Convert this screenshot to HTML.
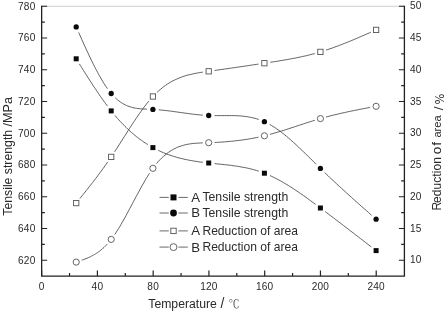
<!DOCTYPE html>
<html lang="en"><head><meta charset="utf-8"><title>Tensile strength and reduction of area vs temperature</title>
<style>html,body{margin:0;padding:0;background:#fff;}body{width:445px;height:313px;overflow:hidden;}</style></head>
<body>
<svg width="445" height="313" viewBox="0 0 445 313" style="display:block">
<rect width="445" height="313" fill="#fff"/>
<line x1="41.65" y1="6.25" x2="404.4" y2="6.25" stroke="#c4c4c4" stroke-width="0.8"/>
<g stroke="#222" stroke-width="1.3" fill="none" stroke-linecap="butt">
<path d="M41.65 5.75 V276.1 H404.4 V5.75" stroke-linejoin="miter"/>
<path d="M41.65 260.23 h5.5 M41.65 228.48 h5.5 M41.65 196.73 h5.5 M41.65 164.99 h5.5 M41.65 133.24 h5.5 M41.65 101.49 h5.5 M41.65 69.74 h5.5 M41.65 38.00 h5.5 M41.65 6.25 h5.5 M41.65 244.35 h3.2 M41.65 212.61 h3.2 M41.65 180.86 h3.2 M41.65 149.11 h3.2 M41.65 117.36 h3.2 M41.65 85.62 h3.2 M41.65 53.87 h3.2 M41.65 22.12 h3.2 M404.4 260.23 h-5.5 M404.4 228.48 h-5.5 M404.4 196.73 h-5.5 M404.4 164.99 h-5.5 M404.4 133.24 h-5.5 M404.4 101.49 h-5.5 M404.4 69.74 h-5.5 M404.4 38.00 h-5.5 M404.4 6.25 h-5.5 M404.4 244.35 h-3.2 M404.4 212.61 h-3.2 M404.4 180.86 h-3.2 M404.4 149.11 h-3.2 M404.4 117.36 h-3.2 M404.4 85.62 h-3.2 M404.4 53.87 h-3.2 M404.4 22.12 h-3.2 M41.65 276.1 v-5.5 M97.41 276.1 v-5.5 M153.17 276.1 v-5.5 M208.93 276.1 v-5.5 M264.69 276.1 v-5.5 M320.45 276.1 v-5.5 M376.21 276.1 v-5.5 M69.53 276.1 v-3.2 M125.29 276.1 v-3.2 M181.05 276.1 v-3.2 M236.81 276.1 v-3.2 M292.57 276.1 v-3.2 M348.33 276.1 v-3.2" stroke-width="1.2"/>
</g>
<g stroke="#444" stroke-width="0.85" fill="none">
<path d="M79.4 63.9 L80.4 65.6 L81.5 67.3 L82.5 68.9 L83.6 70.6 L84.6 72.3 L85.7 74.0 L86.8 75.6 L87.8 77.3 L88.9 78.9 L89.9 80.6 L91.0 82.2 L92.0 83.8 L93.1 85.5 L94.1 87.1 L95.2 88.6 L96.3 90.2 L97.3 91.8 L98.4 93.3 L99.4 94.9 L100.5 96.4 L101.5 97.9 L102.6 99.4 L103.6 100.9 L104.7 102.3 L105.7 103.8 L106.8 105.2 L107.5 106.1"/>
<path d="M115.0 115.5 L116.2 117.0 L117.5 118.4 L118.7 119.8 L120.0 121.2 L121.3 122.5 L122.5 123.8 L123.8 125.1 L125.0 126.4 L126.3 127.6 L127.5 128.8 L128.8 130.0 L130.1 131.2 L131.3 132.3 L132.6 133.4 L133.8 134.4 L135.1 135.5 L136.3 136.5 L137.6 137.5 L138.9 138.5 L140.1 139.4 L141.4 140.3 L142.6 141.2 L143.9 142.1 L145.1 142.9 L146.4 143.7 L147.7 144.5 L147.9 144.7"/>
<path d="M158.2 150.3 L159.9 151.1 L161.6 151.9 L163.3 152.6 L165.0 153.3 L166.6 154.0 L168.3 154.6 L170.0 155.2 L171.7 155.7 L173.4 156.3 L175.1 156.8 L176.7 157.3 L178.4 157.8 L180.1 158.2 L181.8 158.6 L183.5 159.0 L185.1 159.4 L186.8 159.7 L188.5 160.1 L190.2 160.4 L191.9 160.7 L193.6 161.0 L195.2 161.2 L196.9 161.5 L198.6 161.8 L200.3 162.0 L202.0 162.2 L202.8 162.3"/>
<path d="M214.6 163.6 L216.3 163.8 L217.9 164.0 L219.6 164.1 L221.3 164.3 L223.0 164.5 L224.7 164.7 L226.3 164.8 L228.0 165.0 L229.7 165.2 L231.4 165.4 L233.1 165.7 L234.7 165.9 L236.4 166.1 L238.1 166.4 L239.8 166.7 L241.4 167.0 L243.1 167.3 L244.8 167.6 L246.5 167.9 L248.2 168.3 L249.8 168.7 L251.5 169.1 L253.2 169.6 L254.9 170.0 L256.6 170.5 L258.2 171.0 L258.8 171.2"/>
<path d="M270.0 175.6 L271.7 176.4 L273.4 177.2 L275.1 178.0 L276.8 178.9 L278.5 179.8 L280.2 180.7 L281.8 181.6 L283.5 182.6 L285.2 183.6 L286.9 184.6 L288.6 185.7 L290.3 186.7 L292.0 187.8 L293.7 188.9 L295.4 190.0 L297.0 191.1 L298.7 192.3 L300.4 193.5 L302.1 194.6 L303.8 195.8 L305.5 197.0 L307.2 198.2 L308.9 199.5 L310.6 200.7 L312.2 201.9 L313.9 203.2 L315.6 204.4"/>
<path d="M325.2 211.6 L326.8 212.8 L328.5 214.1 L330.2 215.4 L331.9 216.7 L333.6 217.9 L335.2 219.2 L336.9 220.5 L338.6 221.8 L340.3 223.0 L342.0 224.3 L343.6 225.6 L345.3 226.9 L347.0 228.2 L348.7 229.5 L350.3 230.8 L352.0 232.0 L353.7 233.3 L355.4 234.6 L357.1 235.9 L358.7 237.2 L360.4 238.5 L362.1 239.8 L363.8 241.1 L365.5 242.4 L367.1 243.7 L368.8 245.0 L370.5 246.3 L371.3 246.9"/>
<path d="M78.7 32.5 L79.7 34.8 L80.8 37.2 L81.8 39.6 L82.9 41.9 L83.9 44.3 L85.0 46.6 L86.0 48.9 L87.1 51.2 L88.2 53.4 L89.2 55.7 L90.3 57.9 L91.3 60.1 L92.4 62.2 L93.4 64.4 L94.5 66.5 L95.5 68.5 L96.6 70.5 L97.7 72.5 L98.7 74.5 L99.8 76.4 L100.8 78.2 L101.9 80.0 L102.9 81.8 L104.0 83.5 L105.0 85.1 L106.1 86.7 L107.2 88.2 L107.5 88.7"/>
<path d="M115.2 97.8 L116.4 98.9 L117.7 100.0 L119.0 101.0 L120.2 101.9 L121.5 102.7 L122.7 103.5 L124.0 104.2 L125.2 104.9 L126.5 105.5 L127.8 106.0 L129.0 106.4 L130.3 106.9 L131.5 107.2 L132.8 107.6 L134.0 107.9 L135.3 108.1 L136.6 108.3 L137.8 108.5 L139.1 108.6 L140.3 108.8 L141.6 108.9 L142.8 109.0 L144.1 109.0 L145.4 109.1 L146.6 109.2 L147.0 109.2"/>
<path d="M158.8 109.8 L160.5 110.0 L162.2 110.1 L163.8 110.3 L165.5 110.5 L167.2 110.7 L168.9 110.9 L170.6 111.1 L172.2 111.3 L173.9 111.6 L175.6 111.8 L177.3 112.0 L179.0 112.3 L180.7 112.5 L182.3 112.7 L184.0 113.0 L185.7 113.2 L187.4 113.4 L189.1 113.7 L190.8 113.9 L192.4 114.1 L194.1 114.3 L195.8 114.5 L197.5 114.7 L199.2 114.8 L200.8 115.0 L202.5 115.1 L202.8 115.2"/>
<path d="M214.6 115.6 L216.3 115.6 L217.9 115.6 L219.6 115.6 L221.3 115.6 L223.0 115.6 L224.7 115.6 L226.3 115.6 L228.0 115.6 L229.7 115.6 L231.4 115.6 L233.1 115.6 L234.7 115.6 L236.4 115.7 L238.1 115.8 L239.8 115.9 L241.4 116.0 L243.1 116.2 L244.8 116.4 L246.5 116.6 L248.2 116.9 L249.8 117.2 L251.5 117.5 L253.2 117.9 L254.9 118.3 L256.6 118.8 L258.2 119.3 L258.8 119.5"/>
<path d="M269.7 124.4 L271.4 125.4 L273.1 126.5 L274.8 127.5 L276.5 128.7 L278.2 129.9 L279.9 131.1 L281.6 132.4 L283.3 133.7 L284.9 135.0 L286.6 136.4 L288.3 137.8 L290.0 139.3 L291.7 140.8 L293.4 142.3 L295.1 143.8 L296.8 145.4 L298.5 147.0 L300.1 148.6 L301.8 150.2 L303.5 151.8 L305.2 153.4 L306.9 155.1 L308.6 156.8 L310.3 158.4 L312.0 160.1 L313.6 161.8 L315.3 163.4 L316.2 164.3"/>
<path d="M324.6 172.5 L326.3 174.1 L328.0 175.7 L329.6 177.3 L331.3 178.9 L333.0 180.4 L334.7 182.0 L336.4 183.6 L338.0 185.1 L339.7 186.7 L341.4 188.2 L343.1 189.8 L344.8 191.3 L346.4 192.8 L348.1 194.3 L349.8 195.9 L351.5 197.4 L353.1 198.9 L354.8 200.4 L356.5 201.9 L358.2 203.4 L359.9 204.9 L361.5 206.4 L363.2 207.8 L364.9 209.3 L366.6 210.8 L368.3 212.3 L369.9 213.8 L371.6 215.3"/>
<path d="M79.9 198.5 L80.9 197.2 L82.0 195.9 L83.1 194.6 L84.1 193.3 L85.2 192.0 L86.2 190.6 L87.3 189.3 L88.3 188.0 L89.4 186.6 L90.4 185.3 L91.5 183.9 L92.6 182.6 L93.6 181.2 L94.7 179.8 L95.7 178.4 L96.8 177.1 L97.8 175.7 L98.9 174.2 L99.9 172.8 L101.0 171.4 L102.1 169.9 L103.1 168.5 L104.2 167.0 L105.2 165.5 L106.3 164.1 L107.3 162.5 L107.9 161.8"/>
<path d="M114.6 151.8 L115.8 149.9 L117.1 148.0 L118.3 146.0 L119.6 144.1 L120.8 142.1 L122.1 140.1 L123.4 138.1 L124.6 136.2 L125.9 134.2 L127.1 132.2 L128.4 130.2 L129.6 128.3 L130.9 126.3 L132.2 124.4 L133.4 122.5 L134.7 120.6 L135.9 118.7 L137.2 116.9 L138.4 115.0 L139.7 113.2 L141.0 111.5 L142.2 109.7 L143.5 108.0 L144.7 106.3 L146.0 104.7 L147.2 103.1 L148.5 101.6 L148.9 101.0"/>
<path d="M157.1 92.3 L158.8 90.7 L160.5 89.3 L162.2 87.9 L163.8 86.6 L165.5 85.4 L167.2 84.2 L168.9 83.2 L170.6 82.2 L172.2 81.2 L173.9 80.4 L175.6 79.5 L177.3 78.8 L179.0 78.1 L180.7 77.4 L182.3 76.8 L184.0 76.2 L185.7 75.7 L187.4 75.2 L189.1 74.8 L190.8 74.4 L192.4 74.0 L194.1 73.6 L195.8 73.3 L197.5 73.0 L199.2 72.7 L200.8 72.4 L202.5 72.2 L202.8 72.1"/>
<path d="M214.6 70.5 L216.3 70.2 L217.9 70.0 L219.6 69.8 L221.3 69.5 L223.0 69.3 L224.7 69.0 L226.3 68.8 L228.0 68.6 L229.7 68.3 L231.4 68.1 L233.1 67.8 L234.7 67.6 L236.4 67.3 L238.1 67.1 L239.8 66.8 L241.4 66.6 L243.1 66.4 L244.8 66.1 L246.5 65.9 L248.2 65.6 L249.8 65.4 L251.5 65.1 L253.2 64.9 L254.9 64.6 L256.6 64.4 L258.2 64.1 L258.5 64.1"/>
<path d="M270.3 62.3 L272.0 62.0 L273.7 61.8 L275.4 61.5 L277.1 61.3 L278.8 61.0 L280.4 60.7 L282.1 60.4 L283.8 60.1 L285.5 59.8 L287.2 59.6 L288.9 59.2 L290.6 58.9 L292.3 58.6 L293.9 58.3 L295.6 58.0 L297.3 57.6 L299.0 57.3 L300.7 56.9 L302.4 56.5 L304.1 56.2 L305.8 55.8 L307.5 55.4 L309.1 55.0 L310.8 54.5 L312.5 54.1 L314.2 53.7 L314.8 53.5"/>
<path d="M326.0 50.1 L327.7 49.6 L329.4 49.0 L331.0 48.4 L332.7 47.9 L334.4 47.2 L336.1 46.6 L337.8 46.0 L339.4 45.4 L341.1 44.7 L342.8 44.1 L344.5 43.4 L346.2 42.7 L347.8 42.1 L349.5 41.4 L351.2 40.7 L352.9 40.0 L354.5 39.3 L356.2 38.6 L357.9 37.9 L359.6 37.1 L361.3 36.4 L362.9 35.7 L364.6 35.0 L366.3 34.2 L368.0 33.5 L369.7 32.7 L370.8 32.3"/>
<path d="M81.8 260.2 L82.9 259.8 L83.9 259.4 L85.0 259.0 L86.0 258.6 L87.1 258.2 L88.2 257.7 L89.2 257.3 L90.3 256.8 L91.3 256.2 L92.4 255.7 L93.4 255.1 L94.5 254.5 L95.5 253.9 L96.6 253.2 L97.7 252.5 L98.7 251.7 L99.8 251.0 L100.8 250.1 L101.9 249.3 L102.9 248.3 L104.0 247.4 L105.0 246.4 L106.1 245.3 L107.2 244.2 L107.3 244.0"/>
<path d="M114.8 234.5 L116.0 232.6 L117.3 230.6 L118.5 228.6 L119.8 226.5 L121.0 224.4 L122.3 222.2 L123.6 220.0 L124.8 217.8 L126.1 215.5 L127.3 213.2 L128.6 210.8 L129.8 208.5 L131.1 206.1 L132.4 203.7 L133.6 201.3 L134.9 199.0 L136.1 196.6 L137.4 194.3 L138.7 191.9 L139.9 189.6 L141.2 187.3 L142.4 185.1 L143.7 182.9 L144.9 180.7 L146.2 178.6 L147.5 176.5 L148.7 174.5 L149.5 173.2"/>
<path d="M156.5 163.6 L158.2 161.6 L159.9 159.8 L161.6 158.1 L163.3 156.5 L165.0 155.1 L166.6 153.7 L168.3 152.5 L170.0 151.3 L171.7 150.3 L173.4 149.3 L175.1 148.4 L176.7 147.6 L178.4 146.9 L180.1 146.3 L181.8 145.8 L183.5 145.3 L185.1 144.8 L186.8 144.5 L188.5 144.1 L190.2 143.9 L191.9 143.6 L193.6 143.4 L195.2 143.3 L196.9 143.2 L198.6 143.1 L200.3 143.0 L202.0 142.9 L202.8 142.9"/>
<path d="M214.6 142.5 L216.3 142.4 L217.9 142.3 L219.6 142.2 L221.3 142.1 L223.0 142.0 L224.7 141.9 L226.3 141.7 L228.0 141.6 L229.7 141.4 L231.4 141.3 L233.1 141.1 L234.7 140.9 L236.4 140.7 L238.1 140.5 L239.8 140.3 L241.4 140.1 L243.1 139.9 L244.8 139.6 L246.5 139.4 L248.2 139.1 L249.8 138.8 L251.5 138.5 L253.2 138.2 L254.9 137.9 L256.6 137.6 L258.2 137.2 L258.5 137.1"/>
<path d="M270.0 134.4 L271.7 133.9 L273.4 133.4 L275.1 132.9 L276.8 132.4 L278.5 131.9 L280.2 131.4 L281.8 130.9 L283.5 130.4 L285.2 129.8 L286.9 129.3 L288.6 128.8 L290.3 128.2 L292.0 127.7 L293.7 127.1 L295.4 126.5 L297.0 126.0 L298.7 125.4 L300.4 124.9 L302.1 124.3 L303.8 123.8 L305.5 123.2 L307.2 122.7 L308.9 122.1 L310.6 121.6 L312.2 121.1 L313.9 120.5 L314.8 120.3"/>
<path d="M326.0 117.0 L327.7 116.6 L329.4 116.2 L331.0 115.7 L332.7 115.3 L334.4 114.9 L336.1 114.5 L337.8 114.1 L339.4 113.7 L341.1 113.3 L342.8 112.9 L344.5 112.6 L346.2 112.2 L347.8 111.8 L349.5 111.5 L351.2 111.1 L352.9 110.8 L354.5 110.4 L356.2 110.1 L357.9 109.8 L359.6 109.4 L361.3 109.1 L362.9 108.8 L364.6 108.5 L366.3 108.1 L368.0 107.8 L369.7 107.5 L370.2 107.4"/>
</g>
<rect x="73.70" y="56.30" width="5.0" height="5.0" fill="#0a0a0a"/>
<rect x="108.70" y="108.40" width="5.0" height="5.0" fill="#0a0a0a"/>
<rect x="150.40" y="145.10" width="5.0" height="5.0" fill="#0a0a0a"/>
<rect x="206.20" y="160.50" width="5.0" height="5.0" fill="#0a0a0a"/>
<rect x="261.90" y="170.70" width="5.0" height="5.0" fill="#0a0a0a"/>
<rect x="317.90" y="205.50" width="5.0" height="5.0" fill="#0a0a0a"/>
<rect x="373.60" y="248.10" width="5.0" height="5.0" fill="#0a0a0a"/>
<circle cx="76.20" cy="26.90" r="2.65" fill="#0a0a0a"/>
<circle cx="111.20" cy="93.50" r="2.65" fill="#0a0a0a"/>
<circle cx="152.90" cy="109.40" r="2.65" fill="#0a0a0a"/>
<circle cx="208.70" cy="115.50" r="2.65" fill="#0a0a0a"/>
<circle cx="264.40" cy="121.70" r="2.65" fill="#0a0a0a"/>
<circle cx="320.40" cy="168.40" r="2.65" fill="#0a0a0a"/>
<circle cx="376.10" cy="219.20" r="2.65" fill="#0a0a0a"/>
<rect x="73.55" y="200.45" width="5.3" height="5.3" fill="#fff" stroke="#555" stroke-width="0.9"/>
<rect x="108.55" y="154.25" width="5.3" height="5.3" fill="#fff" stroke="#555" stroke-width="0.9"/>
<rect x="150.25" y="93.85" width="5.3" height="5.3" fill="#fff" stroke="#555" stroke-width="0.9"/>
<rect x="206.05" y="68.65" width="5.3" height="5.3" fill="#fff" stroke="#555" stroke-width="0.9"/>
<rect x="261.75" y="60.55" width="5.3" height="5.3" fill="#fff" stroke="#555" stroke-width="0.9"/>
<rect x="317.75" y="49.25" width="5.3" height="5.3" fill="#fff" stroke="#555" stroke-width="0.9"/>
<rect x="373.45" y="27.25" width="5.3" height="5.3" fill="#fff" stroke="#555" stroke-width="0.9"/>
<circle cx="76.20" cy="262.10" r="3.1" fill="#fff" stroke="#555" stroke-width="0.9"/>
<circle cx="111.20" cy="239.40" r="3.1" fill="#fff" stroke="#555" stroke-width="0.9"/>
<circle cx="152.90" cy="168.30" r="3.1" fill="#fff" stroke="#555" stroke-width="0.9"/>
<circle cx="208.70" cy="142.70" r="3.1" fill="#fff" stroke="#555" stroke-width="0.9"/>
<circle cx="264.40" cy="135.80" r="3.1" fill="#fff" stroke="#555" stroke-width="0.9"/>
<circle cx="320.40" cy="118.60" r="3.1" fill="#fff" stroke="#555" stroke-width="0.9"/>
<circle cx="376.10" cy="106.30" r="3.1" fill="#fff" stroke="#555" stroke-width="0.9"/>
<g font-family="'Liberation Sans', sans-serif" font-size="10.1" letter-spacing="0.2" fill="#2a2a2a">
<text x="35.5" y="263.53" text-anchor="end">620</text>
<text x="35.5" y="231.78" text-anchor="end">640</text>
<text x="35.5" y="200.03" text-anchor="end">660</text>
<text x="35.5" y="168.29" text-anchor="end">680</text>
<text x="35.5" y="136.54" text-anchor="end">700</text>
<text x="35.5" y="104.79" text-anchor="end">720</text>
<text x="35.5" y="73.04" text-anchor="end">740</text>
<text x="35.5" y="41.30" text-anchor="end">760</text>
<text x="35.5" y="9.55" text-anchor="end">780</text>
<text x="410" y="263.33">10</text>
<text x="410" y="231.58">15</text>
<text x="410" y="199.83">20</text>
<text x="410" y="168.09">25</text>
<text x="410" y="136.34">30</text>
<text x="410" y="104.59">35</text>
<text x="410" y="72.84">40</text>
<text x="410" y="41.10">45</text>
<text x="410" y="9.35">50</text>
<text x="41.65" y="290.3" text-anchor="middle">0</text>
<text x="97.41" y="290.3" text-anchor="middle">40</text>
<text x="153.17" y="290.3" text-anchor="middle">80</text>
<text x="208.93" y="290.3" text-anchor="middle">120</text>
<text x="264.69" y="290.3" text-anchor="middle">160</text>
<text x="320.45" y="290.3" text-anchor="middle">200</text>
<text x="376.21" y="290.3" text-anchor="middle">240</text>
</g>
<g font-family="'Liberation Sans', sans-serif" fill="#2a2a2a">
<text transform="translate(11.8 215.7) rotate(-90)" font-size="12.25">Tensile strength</text>
<text transform="translate(12.0 126.6) rotate(-90)" font-size="12.7">/MPa</text>
<text transform="translate(441.2 210.4) rotate(-90)" font-size="12">R</text>
<text transform="translate(441.2 203.1) rotate(-90)" font-size="12" textLength="46.0" lengthAdjust="spacing">eduction</text>
<text transform="translate(441.2 154.3) rotate(-90)" font-size="13.6" letter-spacing="0.9">of</text>
<text transform="translate(441.3 137.6) rotate(-90)" font-size="11.2">area</text>
<text transform="translate(442.6 110.3) rotate(-90)" font-size="13.5">/</text>
<text transform="translate(443.5 104.6) rotate(-90)" font-size="11.5" font-family="'DejaVu Sans', sans-serif">%</text>
<text x="148.3" y="307.8" font-size="12" textLength="68.5" lengthAdjust="spacingAndGlyphs">Temperature</text>
<text x="220.5" y="308.3" font-size="14">/</text>
<text x="228.6" y="307.9" font-size="11" fill="#444" font-family="'Liberation Serif', 'Noto Serif CJK SC', serif">℃</text>
<path d="M159.5 197.4 H168.8 M178.4 197.4 H187.8" stroke="#5a5a5a" stroke-width="0.9" fill="none"/>
<rect x="170.50" y="194.40" width="6.0" height="6.0" fill="#0a0a0a"/>
<text x="191.2" y="201.80" font-size="13.2">A</text>
<text x="202.4" y="201.00" font-size="12.1" textLength="85.8" lengthAdjust="spacingAndGlyphs">Tensile strength</text>
<path d="M159.5 213.0 H168.8 M178.4 213.0 H187.8" stroke="#5a5a5a" stroke-width="0.9" fill="none"/>
<circle cx="173.50" cy="213.00" r="3.4" fill="#0a0a0a"/>
<text x="191.2" y="217.40" font-size="13.2">B</text>
<text x="202.4" y="216.60" font-size="12.1" textLength="85.8" lengthAdjust="spacingAndGlyphs">Tensile strength</text>
<path d="M159.5 230.9 H168.8 M178.4 230.9 H187.8" stroke="#5a5a5a" stroke-width="0.9" fill="none"/>
<rect x="170.80" y="228.20" width="5.4" height="5.4" fill="#fff" stroke="#555" stroke-width="0.9"/>
<text x="191.2" y="235.30" font-size="13.2">A</text>
<text x="202.4" y="234.50" font-size="12.1" textLength="95.6" lengthAdjust="spacingAndGlyphs">Reduction of area</text>
<path d="M159.5 247.1 H168.8 M178.4 247.1 H187.8" stroke="#5a5a5a" stroke-width="0.9" fill="none"/>
<circle cx="173.50" cy="247.10" r="3.45" fill="#fff" stroke="#555" stroke-width="0.9"/>
<text x="191.2" y="251.50" font-size="13.2">B</text>
<text x="202.4" y="250.70" font-size="12.1" textLength="95.6" lengthAdjust="spacingAndGlyphs">Reduction of area</text>
</g>
</svg>
</body></html>
